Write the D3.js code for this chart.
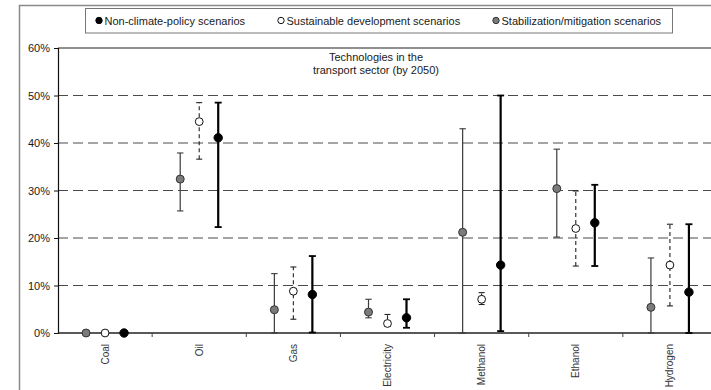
<!DOCTYPE html>
<html>
<head>
<meta charset="utf-8">
<script src="https://cdn.jsdelivr.net/npm/d3@7/dist/d3.min.js"></script>
<style>
  html, body { margin: 0; padding: 0; background: #fff; }
  svg { display: block; }
  text { font-family: "Liberation Sans", Arial, sans-serif; fill: #1a1a1a; }
  .cat { font-family: "Liberation Sans Narrow", "Arial Narrow", "Liberation Sans", sans-serif; font-size: 10px; fill: #333; }
</style>
</head>
<body>
<svg id="chart" width="711" height="390"></svg>
<script>
// Technology shares in the transport sector by 2050 (percent of final energy)
const categories = ["Coal", "Oil", "Gas", "Electricity", "Methanol", "Ethanol", "Hydrogen"];

// Non-climate-policy scenarios (median / min / max)
const nonClimateMid  = [0, 41.1,  8.1, 3.2, 14.3, 23.2,  8.6];
const nonClimateLow  = [0, 22.3,  0.1, 1.1,  0.4, 14.1,  0.0];
const nonClimateHigh = [0, 48.5, 16.2, 7.1, 50.0, 31.2, 22.9];

// Sustainable development scenarios
const sustainableMid  = [0, 44.5,  8.8, 2.0, 7.1, 22.0, 14.3];
const sustainableLow  = [0, 36.6,  2.9, 1.4, 6.0, 14.1,  5.7];
const sustainableHigh = [0, 48.5, 13.9, 3.9, 8.5, 29.9, 22.9];

// Stabilization/mitigation scenarios
const stabilizationMid  = [0, 32.4,  4.9, 4.4, 21.2, 30.4,  5.4];
const stabilizationLow  = [0, 25.7,  0.0, 3.2,  0.0, 20.2,  0.0];
const stabilizationHigh = [0, 37.9, 12.5, 7.1, 43.0, 38.7, 15.8];

const yTicks = [0, 10, 20, 30, 40, 50, 60];
const legendLabels = ["Non-climate-policy scenarios", "Sustainable development scenarios", "Stabilization/mitigation scenarios"];
const titleLines = ["Technologies in the", "transport sector (by 2050)"];

const svg = d3.select("#chart");

const x = d3.scaleBand().domain(categories).range([58, 717]);
const y = d3.scaleLinear().domain([0, 60]).range([333, 48]);

// series appearance
const series = [
  { key: "stab", mid: stabilizationMid, low: stabilizationLow, high: stabilizationHigh,
    offset: -19, fill: "#7b7b7b", stroke: "#333", line: "#3a3a3a", lw: 1.2, dash: null, r: 4, cap: 3.2, capW: 1.1 },
  { key: "sust", mid: sustainableMid, low: sustainableLow, high: sustainableHigh,
    offset: 0, fill: "#fff", stroke: "#111", line: "#222", lw: 1.1, dash: "4,3", r: 3.9, cap: 3, capW: 1.1 },
  { key: "nonc", mid: nonClimateMid, low: nonClimateLow, high: nonClimateHigh,
    offset: 19, fill: "#000", stroke: "#000", line: "#000", lw: 2.2, dash: null, r: 4.2, cap: 3.5, capW: 1.8 }
];

// outer frame
svg.append("path")
  .attr("d", "M19.5,390 V5.5 H711")
  .attr("fill", "none").attr("stroke", "#8a8a8a").attr("stroke-width", 1.5);

// legend
const lg = svg.append("g");
lg.append("rect").attr("x", 85.5).attr("y", 8.5).attr("width", 587).attr("height", 24.5)
  .attr("fill", "#fff").attr("stroke", "#777").attr("stroke-width", 1);
const legendX = [99, 281, 496];
const legendStyle = [series[2], series[1], series[0]];
legendLabels.forEach((t, i) => {
  lg.append("circle").attr("cx", legendX[i]).attr("cy", 20.5).attr("r", 3.2)
    .attr("fill", legendStyle[i].fill).attr("stroke", legendStyle[i].stroke).attr("stroke-width", 1);
  lg.append("text").attr("x", legendX[i] + 5.5).attr("y", 24.5)
    .attr("font-size", 11).text(t);
});

// horizontal dashed gridlines
svg.append("g").selectAll("line")
  .data(yTicks.filter(d => d > 0 && d < 60))
  .join("line")
  .attr("x1", 58).attr("x2", 711)
  .attr("y1", d => y(d)).attr("y2", d => y(d))
  .attr("stroke", "#4a4a4a").attr("stroke-width", 1)
  .attr("stroke-dasharray", "10,5");

// top border of plot area
svg.append("line").attr("x1", 58).attr("x2", 711).attr("y1", y(60)).attr("y2", y(60))
  .attr("stroke", "#222").attr("stroke-width", 1);

// y axis
const yAxis = svg.append("g").attr("transform", "translate(58,0)")
  .call(d3.axisLeft(y).tickValues(yTicks).tickFormat(d => d + "%").tickSize(4).tickPadding(4));
yAxis.select(".domain").attr("stroke", "#111").attr("stroke-width", 1.2);
yAxis.selectAll(".tick line").attr("stroke", "#111");
yAxis.selectAll("text").attr("font-size", 11).attr("font-family", "Liberation Sans, Arial, sans-serif").attr("fill", "#1a1a1a");

// x axis: baseline with ticks at category boundaries
const bounds = categories.map(c => x(c)).concat([x.range()[1]]);
svg.append("line").attr("x1", 58).attr("x2", 711).attr("y1", y(0)).attr("y2", y(0))
  .attr("stroke", "#222").attr("stroke-width", 1.4);
svg.append("g").selectAll("line").data(bounds.slice(1))
  .join("line")
  .attr("x1", d => d).attr("x2", d => d)
  .attr("y1", y(0)).attr("y2", y(0) + 4)
  .attr("stroke", "#444").attr("stroke-width", 1);

// category labels (rotated)
svg.append("g").selectAll("text").data(categories)
  .join("text")
  .attr("class", "cat")
  .attr("transform", d => `translate(${x(d) + x.bandwidth() / 2},344) rotate(-90)`)
  .attr("text-anchor", "end")
  .attr("dy", "0.35em")
  .text(d => d);

// title
svg.append("text").attr("x", 376).attr("y", 61).attr("text-anchor", "middle")
  .attr("font-size", 11).text(titleLines[0]);
svg.append("text").attr("x", 376).attr("y", 73.5).attr("text-anchor", "middle")
  .attr("font-size", 11).text(titleLines[1]);

// error bars and points
const cx = (c, s) => x(c) + x.bandwidth() / 2 + s.offset;

series.forEach(s => {
  const g = svg.append("g");
  const rows = categories.map((c, i) => ({ c, mid: s.mid[i], low: s.low[i], high: s.high[i] }));
  const bars = rows.filter(d => d.high > d.low);
  g.selectAll("line.v").data(bars).join("line")
    .attr("x1", d => cx(d.c, s)).attr("x2", d => cx(d.c, s))
    .attr("y1", d => y(d.low)).attr("y2", d => y(d.high))
    .attr("stroke", s.line).attr("stroke-width", s.lw)
    .attr("stroke-dasharray", s.dash);
  ["low", "high"].forEach(k => {
    g.selectAll("line.cap-" + k).data(bars).join("line")
      .attr("x1", d => cx(d.c, s) - s.cap).attr("x2", d => cx(d.c, s) + s.cap)
      .attr("y1", d => y(d[k])).attr("y2", d => y(d[k]))
      .attr("stroke", s.line).attr("stroke-width", s.capW);
  });
  g.selectAll("circle").data(rows).join("circle")
    .attr("cx", d => cx(d.c, s)).attr("cy", d => y(d.mid)).attr("r", s.r)
    .attr("fill", s.fill).attr("stroke", s.stroke).attr("stroke-width", 1);
});
</script>
</body>
</html>
